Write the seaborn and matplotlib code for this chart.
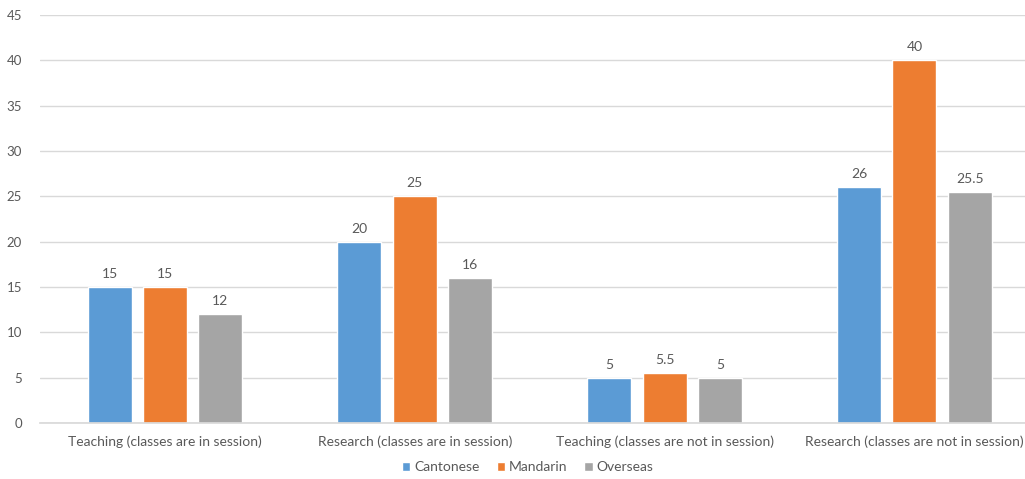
import matplotlib
matplotlib.use("Agg")
import matplotlib.pyplot as plt
import seaborn as sns
import pandas as pd

categories = [
    "Teaching (classes are in session)",
    "Research (classes are in session)",
    "Teaching (classes are not in session)",
    "Research (classes are not in session)",
]
groups = ["Cantonese", "Mandarin", "Overseas"]
cantonese = [15, 20, 5, 26]
mandarin = [15, 25, 5.5, 40]
overseas = [12, 16, 5, 25.5]
y_ticks = [0, 5, 10, 15, 20, 25, 30, 35, 40, 45]

palette = {"Cantonese": "#5B9BD5", "Mandarin": "#ED7D31", "Overseas": "#A5A5A5"}

df = pd.DataFrame({
    "category": categories * 3,
    "group": [g for g in groups for _ in categories],
    "value": cantonese + mandarin + overseas,
})

sns.set_theme(style="white")
plt.rcParams["font.family"] = ["Lato", "DejaVu Sans"]

fig = plt.figure(figsize=(10.25, 4.79), dpi=100)
ax = fig.add_axes([0.039, 0.117, 0.975, 0.852])

sns.barplot(data=df, x="category", y="value", hue="group", order=categories,
            hue_order=groups, palette=palette, width=0.665, gap=0.205,
            saturation=1, ax=ax, legend=True)

text_color = "#595959"
for container in ax.containers:
    labels = [f"{v:g}" for v in container.datavalues]
    ax.bar_label(container, labels=labels, padding=5, fontsize=10, color=text_color)

ax.set_ylim(0, 45)
ax.set_yticks(y_ticks)
ax.set_xlim(-0.5, 3.5)
ax.yaxis.grid(True, color="#D9D9D9", linewidth=1)
ax.set_axisbelow(True)
for side in ["top", "right", "left"]:
    ax.spines[side].set_visible(False)
ax.spines["bottom"].set_color("#D9D9D9")
ax.tick_params(axis="x", length=0, labelsize=10, labelcolor=text_color, pad=9)
ax.tick_params(axis="y", length=0, labelsize=9.5, labelcolor=text_color, pad=13)
ax.set_xlabel("")
ax.set_ylabel("")

leg = fig.legend(*ax.get_legend_handles_labels(), loc="center", bbox_to_anchor=(0.515, 0.025),
                 ncol=3, frameon=False, fontsize=10, handlelength=0.6, handleheight=0.6,
                 handletextpad=0.3, columnspacing=1.2)
ax.get_legend().remove()
for t in leg.get_texts():
    t.set_color(text_color)

fig.savefig("out.png", dpi=100)
